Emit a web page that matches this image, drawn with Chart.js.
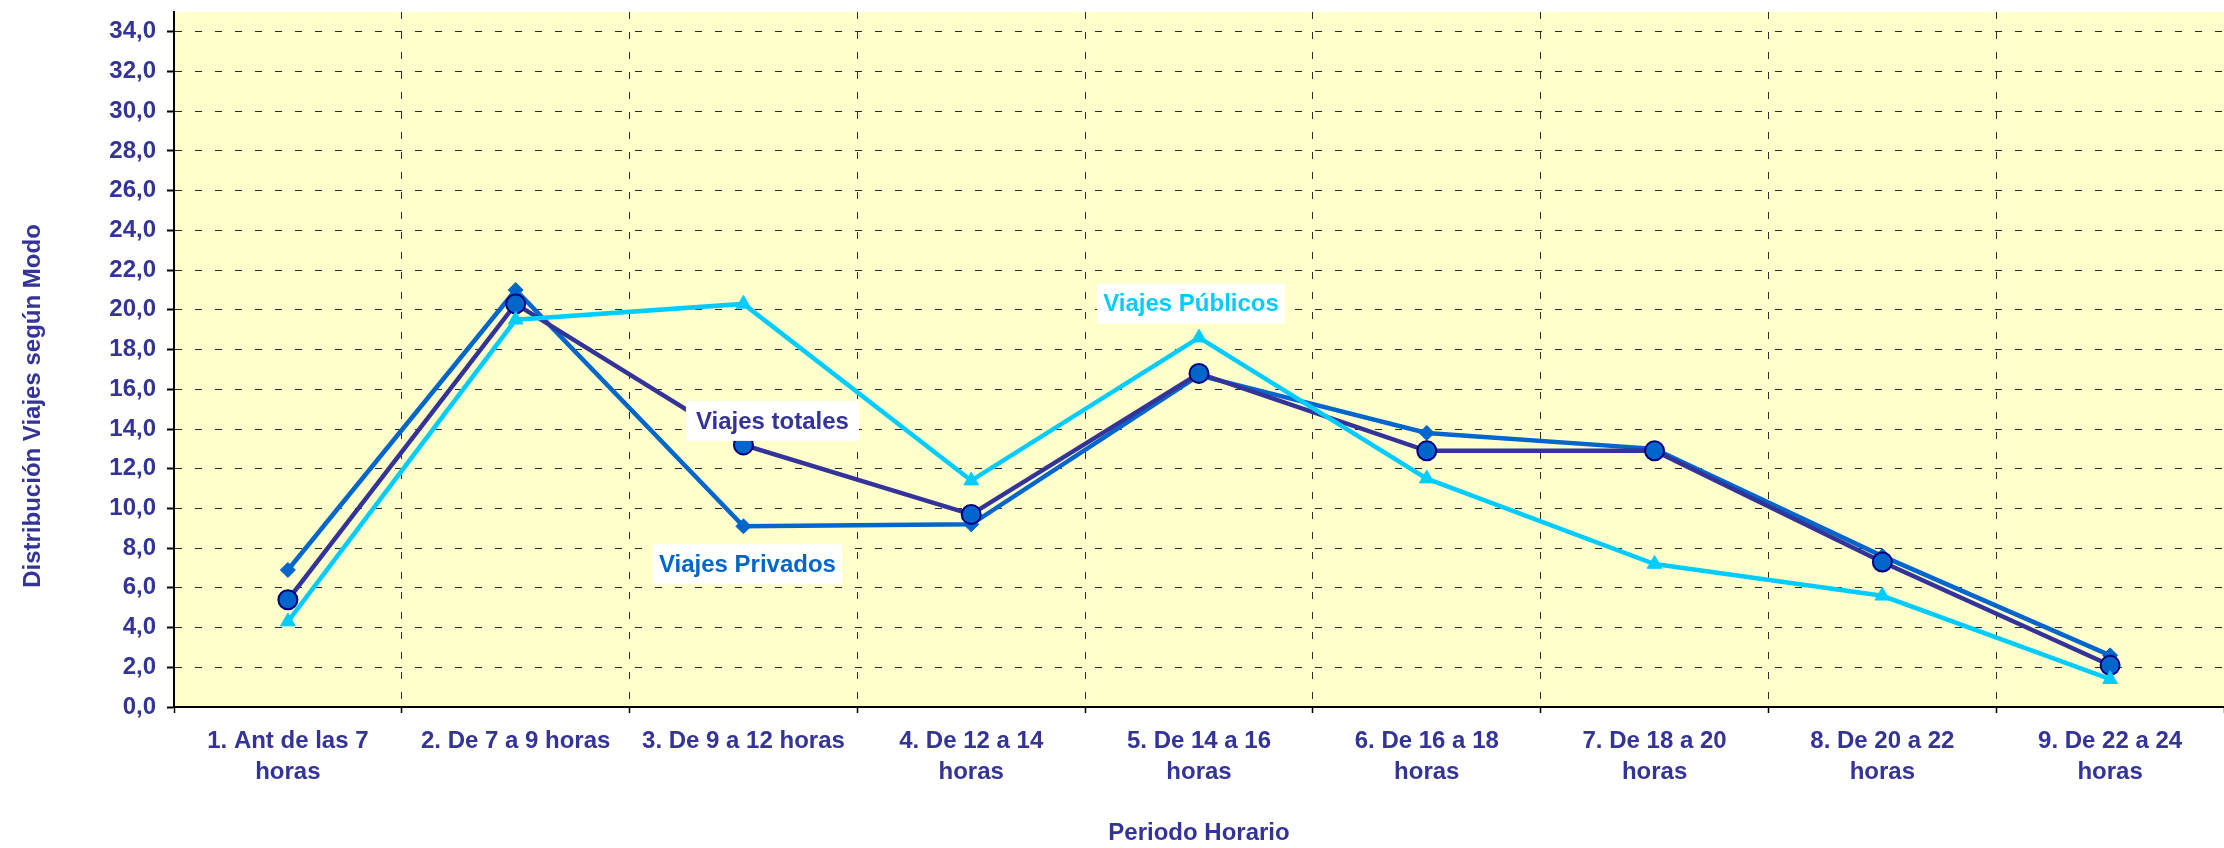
<!DOCTYPE html>
<html>
<head>
<meta charset="utf-8">
<script src="https://cdn.jsdelivr.net/npm/chart.js@4.4.1/dist/chart.umd.min.js"></script>
<style>
html, body { margin: 0; padding: 0; background: #ffffff; }
#wrap { width: 2224px; height: 848px; }
</style>
</head>
<body>
<div id="wrap"><canvas id="c" width="2224" height="848"></canvas></div>
<script>
// ---- data ----
const categories = [
  ["1. Ant de las 7", "horas"],
  ["2. De 7 a 9 horas"],
  ["3. De 9 a 12 horas"],
  ["4. De 12 a 14", "horas"],
  ["5. De 14 a 16", "horas"],
  ["6. De 16 a 18", "horas"],
  ["7. De 18 a 20", "horas"],
  ["8. De 20 a 22", "horas"],
  ["9. De 22 a 24", "horas"]
];
const seriesNames = ["Viajes Privados", "Viajes totales", "Viajes Públicos"];
const privados = [6.9, 21.0, 9.1, 9.2, 16.7, 13.8, 13.0, 7.6, 2.6];
const totales  = [5.4, 20.3, 13.2, 9.7, 16.8, 12.9, 12.9, 7.3, 2.1];
const publicos = [4.3, 19.5, 20.3, 11.4, 18.6, 11.5, 7.2, 5.6, 1.4];
const yAxisTitle = "Distribución Viajes según Modo";
const xAxisTitle = "Periodo Horario";

const FONT = '"Liberation Sans", Arial, sans-serif';
const TXT = '#333399';

Chart.defaults.font.family = FONT;
Chart.defaults.font.size = 24;
Chart.defaults.font.weight = 'bold';
Chart.defaults.color = TXT;

const bgPlugin = {
  id: 'plotBg',
  beforeDraw(chart) {
    const { ctx, chartArea: a } = chart;
    ctx.save();
    ctx.fillStyle = '#FFFFCC';
    ctx.fillRect(a.left, a.top, a.right - a.left, a.bottom - a.top);
    ctx.restore();
  }
};

const labelPlugin = {
  id: 'seriesLabels',
  afterDatasetsDraw(chart, args, opts) {
    const ctx = chart.ctx;
    ctx.save();
    ctx.font = 'bold 24px ' + FONT;
    ctx.textAlign = 'center';
    ctx.textBaseline = 'middle';
    opts.items.forEach(it => {
      const ds = chart.data.datasets[it.dataset];
      const pt = chart.getDatasetMeta(it.dataset).data[it.index];
      const cx = pt.x + it.dx, cy = pt.y + it.dy;
      const w = ctx.measureText(ds.label).width + 2 * it.padX;
      const h = 40;
      ctx.fillStyle = '#ffffff';
      ctx.fillRect(cx - w / 2, cy - h / 2, w, h);
      ctx.fillStyle = it.color;
      ctx.fillText(ds.label, cx, cy + 1);
    });
    ctx.restore();
  }
};

const yTitlePlugin = {
  id: 'yTitle',
  afterDraw(chart) {
    const ctx = chart.ctx;
    ctx.save();
    ctx.translate(33, 406);
    ctx.rotate(-Math.PI / 2);
    ctx.font = 'bold 24px ' + FONT;
    ctx.fillStyle = TXT;
    ctx.textAlign = 'center';
    ctx.textBaseline = 'middle';
    ctx.fillText(yAxisTitle, 0, 0);
    ctx.restore();
  }
};

new Chart(document.getElementById('c'), {
  type: 'line',
  data: {
    labels: categories,
    datasets: [
      {
        label: seriesNames[0], data: privados, order: 3,
        borderColor: '#0066CC', borderWidth: 4.5, tension: 0,
        pointStyle: 'rectRot', pointRadius: 7.5,
        pointBackgroundColor: '#0066CC', pointBorderColor: '#0066CC', pointBorderWidth: 1
      },
      {
        label: seriesNames[1], data: totales, order: 2,
        borderColor: '#333399', borderWidth: 4.5, tension: 0,
        pointStyle: 'circle', pointRadius: 9.5,
        pointBackgroundColor: '#0066CC', pointBorderColor: '#000080', pointBorderWidth: 2
      },
      {
        label: seriesNames[2], data: publicos, order: 1,
        borderColor: '#00CCFF', borderWidth: 4.5, tension: 0,
        pointStyle: 'triangle', pointRadius: 8.5,
        pointBackgroundColor: '#00CCFF', pointBorderColor: '#00CCFF', pointBorderWidth: 1
      }
    ]
  },
  options: {
    responsive: false,
    animation: false,
    devicePixelRatio: 1,
    layout: { autoPadding: false, padding: { top: 12, right: -3, left: 0, bottom: 0 } },
    plugins: {
      legend: { display: false },
      tooltip: { enabled: false },
      seriesLabels: {
        items: [
          { dataset: 1, index: 2, dx: 29, dy: -24, padX: 10, color: '#333399' },
          { dataset: 0, index: 2, dx: 4, dy: 38, padX: 6, color: '#0066CC' },
          { dataset: 2, index: 4, dx: -8, dy: -34, padX: 6, color: '#00CCFF' }
        ]
      }
    },
    scales: {
      x: {
        type: 'category',
        offset: true,
        afterFit(s) { s.height = 141; s.paddingLeft = 0; s.paddingRight = 0; },
        grid: {
          offset: true, color: '#2a2a2a', lineWidth: 1,
          drawTicks: true, tickLength: 6, tickColor: '#000000', tickWidth: 1.5
        },
        border: { display: true, color: '#000000', width: 2, dash: [7, 13] },
        ticks: {
          autoSkip: false, maxRotation: 0, minRotation: 0, padding: 13,
          color: TXT, font: { size: 24, weight: 'bold', lineHeight: 1.3 }
        },
        title: {
          display: true, text: xAxisTitle, color: TXT,
          font: { size: 24, weight: 'bold' }, padding: { top: 0, bottom: 0 }
        }
      },
      y: {
        min: 0, max: 35,
        afterFit(s) { s.width = 174; s.paddingTop = 0; s.paddingBottom = 0; },
        grid: {
          color: '#2a2a2a', lineWidth: 1,
          drawTicks: true, tickLength: 7, tickColor: '#000000', tickWidth: 2
        },
        border: { display: true, color: '#000000', width: 2, dash: [7, 13] },
        ticks: {
          stepSize: 2, includeBounds: false, padding: 11,
          color: TXT, font: { size: 24, weight: 'bold' },
          callback: v => v.toFixed(1).replace('.', ',')
        }
      }
    }
  },
  plugins: [bgPlugin, labelPlugin, yTitlePlugin]
});
</script>
</body>
</html>
